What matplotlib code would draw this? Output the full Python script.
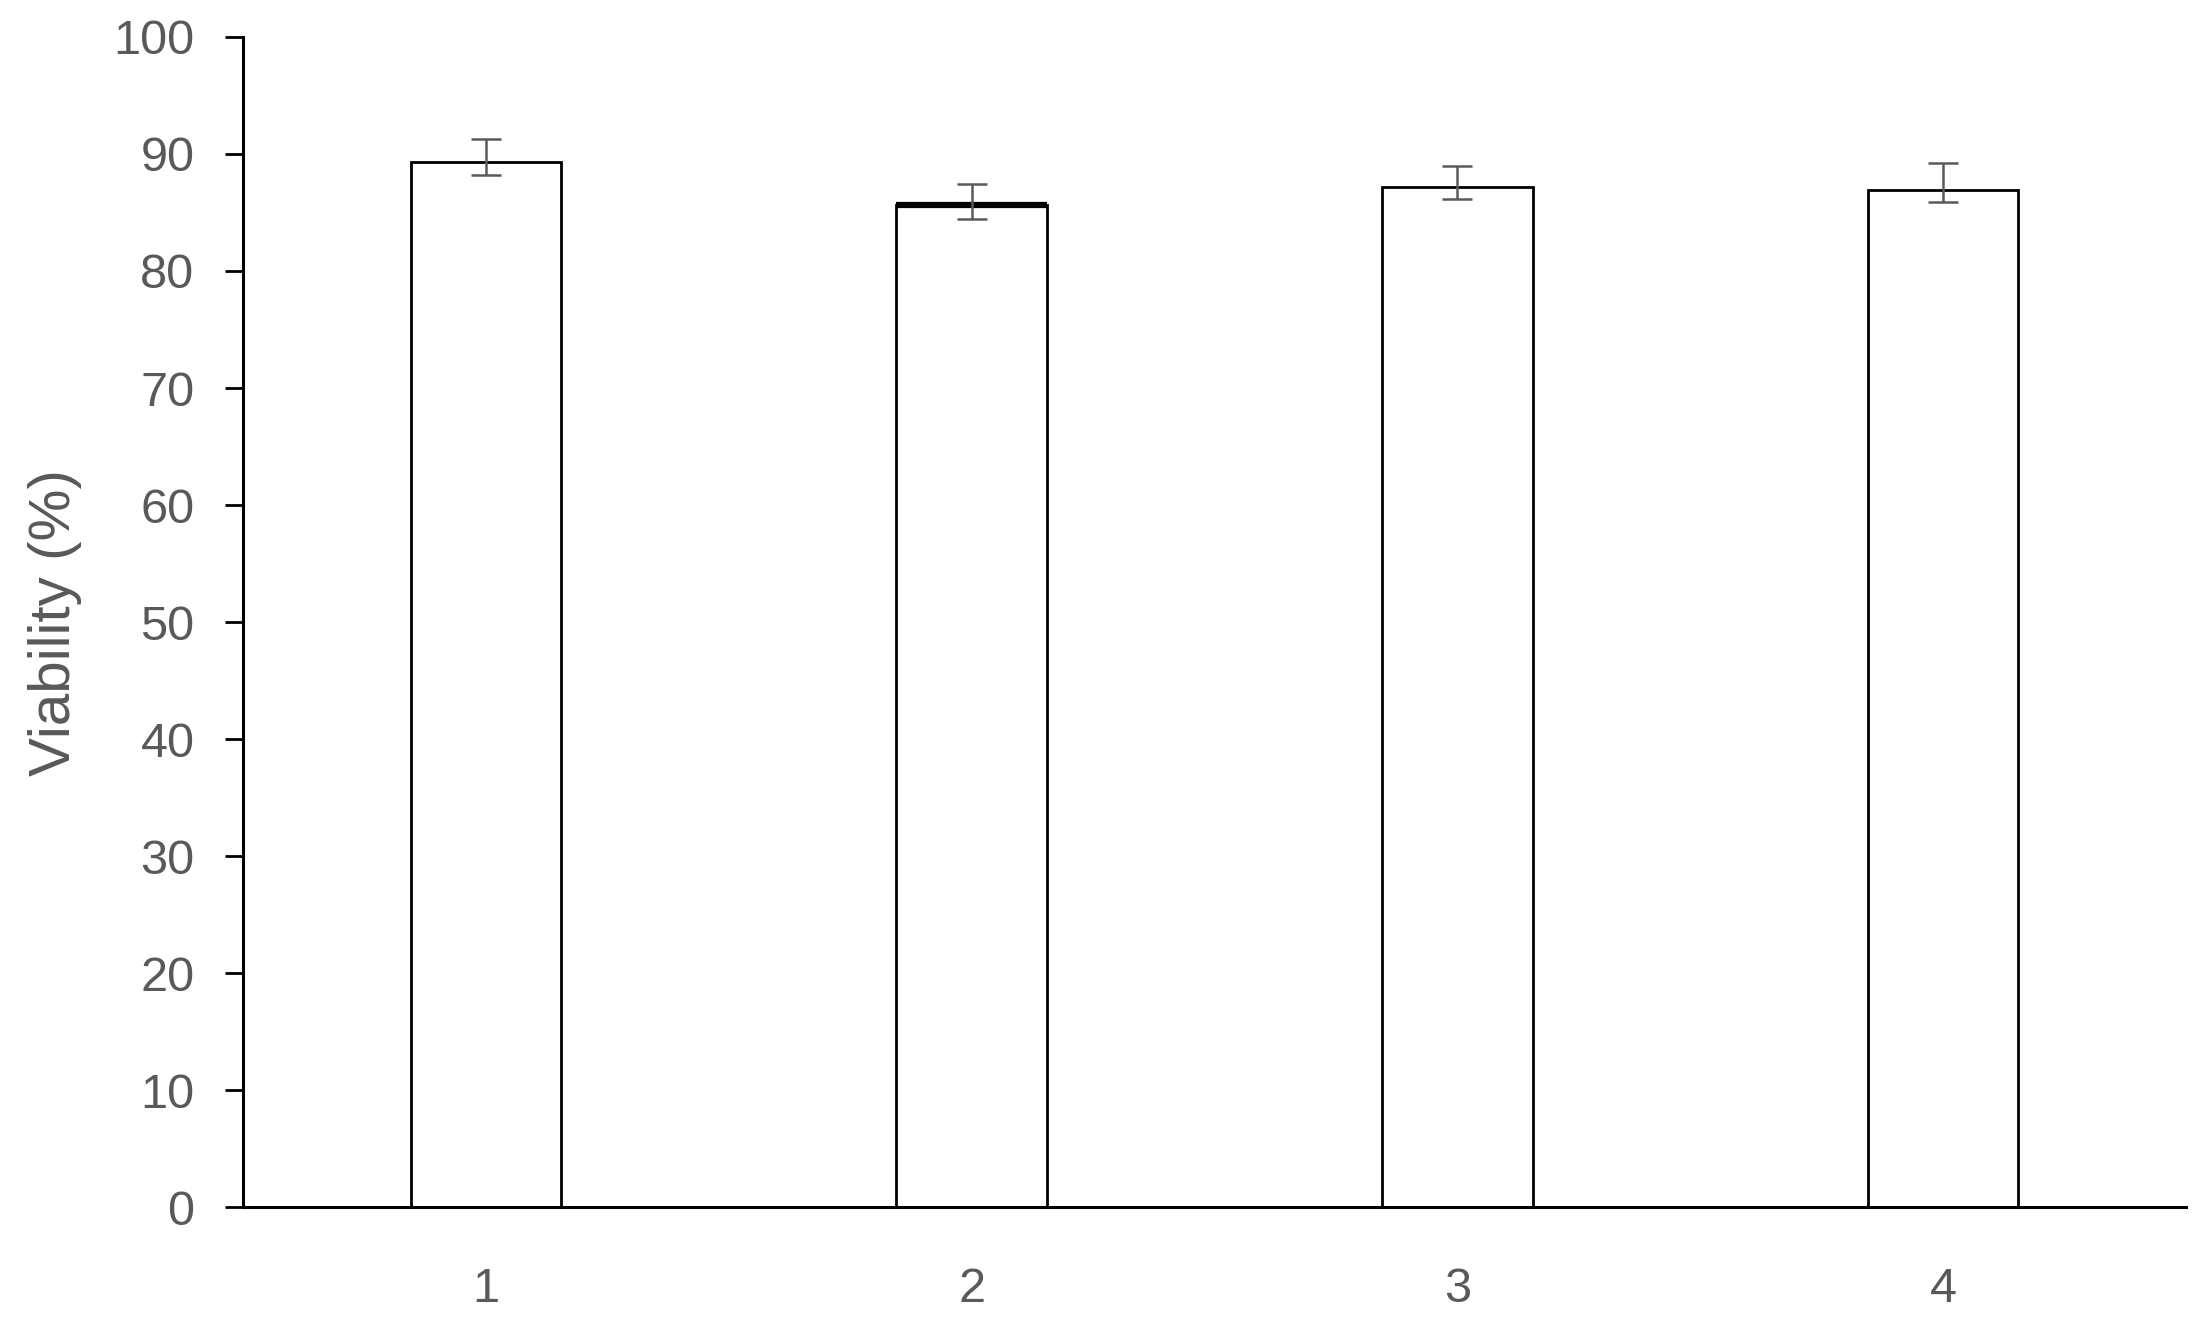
import matplotlib
matplotlib.use("Agg")
import matplotlib.pyplot as plt
import numpy as np

# data
groups = ["1", "2", "3", "4"]
viability = [89.3, 85.6, 87.2, 86.9]
err_low = [1.1, 1.2, 1.05, 1.0]
err_high = [2.0, 1.85, 1.8, 2.3]
yticks = [0, 10, 20, 30, 40, 50, 60, 70, 80, 90, 100]

GRAY = "#595959"
plt.rcParams["font.family"] = ["Liberation Sans", "DejaVu Sans"]

fig = plt.figure(figsize=(22.04, 13.18), dpi=100)
ax = fig.add_axes([0.1103, 0.084, 0.8815, 0.888])

x = np.arange(1, len(groups) + 1)
width = 0.31
ax.bar(x, viability, width=width, color="white", edgecolor="black", linewidth=2.0, zorder=2)
# bar 2 has a heavier top edge in the original
ax.hlines(viability[1], x[1] - width / 2, x[1] + width / 2, color="black", lw=4.5, zorder=3)
ax.errorbar(x, viability, yerr=[err_low, err_high], fmt="none", ecolor="#5a5a5a",
            elinewidth=1.8, capsize=10.5, capthick=1.8, zorder=4)

ax.set_xlim(0.5, 4.5)
ax.set_ylim(0, 100)
ax.set_yticks(yticks)
ax.set_xticks(x)
ax.set_xticklabels(groups)

for side in ["top", "right"]:
    ax.spines[side].set_visible(False)
ax.spines["left"].set_linewidth(2.2)
ax.spines["bottom"].set_linewidth(2.2)

ax.tick_params(axis="y", direction="out", length=13, width=2.0, pad=22,
               labelsize=35, labelcolor=GRAY)
ax.tick_params(axis="x", length=0, pad=43, labelsize=35, labelcolor=GRAY)

ax.set_ylabel("Viability (%)", fontsize=42, color=GRAY)
ax.yaxis.set_label_coords(-0.083, 0.5)

fig.savefig("out.png", dpi=100)
